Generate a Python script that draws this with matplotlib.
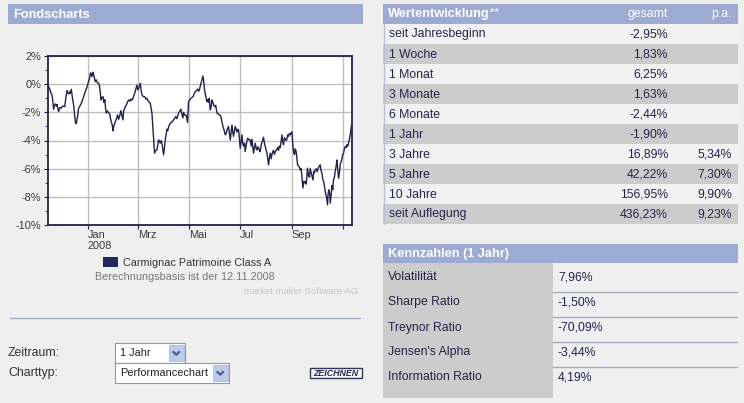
"""
Fondscharts-Seite: Performancechart Carmignac Patrimoine mit Kennzahlen-Tabellen
"""
import numpy as np
import matplotlib
matplotlib.use("Agg")
import matplotlib.pyplot as plt
import matplotlib.dates as mdates
from matplotlib.patches import Rectangle
from matplotlib.ticker import FixedLocator
from datetime import datetime

plt.rcParams["font.family"] = ["Liberation Sans", "DejaVu Sans"]

# Wertentwicklung 1 Jahr: Tage relativ zum 01.01.2008, Performance in %
tage = [-46.6, -45.2, -44.0, -42.6, -41.6, -40.7, -39.6, -38.6, -37.4, -36.6,
        -35.6, -34.7, -33.6, -32.7, -31.5, -30.3, -28.7, -27.3, -26.1, -24.6,
        -23.7, -22.5, -21.5, -20.7, -19.5, -18.3, -16.7, -15.7, -14.7, -13.5,
        -12.7, -12.0, -10.8, -8.7, -6.7, -4.8, -2.8, -1.3, 0.0, 1.2,
        2.4, 3.5, 4.1, 5.3, 6.2, 7.2, 8.3, 9.2, 10.4, 11.6,
        13.2, 14.2, 15.2, 16.0, 17.2, 18.4, 19.6, 20.6, 21.5, 22.4,
        23.6, 24.8, 26.3, 28.0, 29.5, 30.4, 31.3, 33.1, 34.3, 35.9,
        37.1, 38.2, 39.9, 40.9, 42.3, 43.1, 44.5, 46.3, 47.5, 49.0,
        50.5, 51.9, 52.9, 54.3, 55.5, 57.0, 59.1, 60.0, 61.2, 63.0,
        64.2, 65.4, 67.0, 68.4, 69.6, 70.8, 73.0, 74.4, 75.0, 77.0,
        78.0, 78.9, 80.1, 81.6, 83.0, 84.0, 84.9, 86.0, 86.9, 88.1,
        89.3, 90.9, 92.0, 92.9, 95.0, 95.9, 97.1, 98.9, 100.7, 102.9,
        104.3, 105.5, 106.9, 108.8, 110.3, 111.7, 112.7, 114.1, 114.8, 116.3,
        118.0, 119.6, 120.8, 122.2, 123.7, 126.1, 127.6, 128.8, 130.6, 131.8,
        133.0, 134.2, 135.6, 136.8, 138.0, 139.0, 139.6, 140.8, 142.8, 143.8,
        144.7, 145.6, 146.7, 147.9, 148.8, 150.0, 150.9, 152.1, 153.3, 154.8,
        156.3, 158.1, 159.3, 161.9, 163.5, 164.7, 165.9, 167.1, 168.6, 169.7,
        170.7, 171.9, 172.7, 173.7, 174.6, 175.8, 176.6, 178.7, 179.6, 180.6,
        181.4, 182.6, 183.8, 184.7, 185.6, 186.6, 187.8, 188.6, 189.8, 191.4,
        192.6, 193.8, 194.6, 195.8, 196.6, 197.6, 198.5, 199.6, 200.6, 201.8,
        202.6, 203.6, 204.5, 205.6, 206.5, 207.7, 208.9, 210.5, 211.6, 212.5,
        214.6, 215.5, 216.5, 217.6, 218.5, 219.7, 220.5, 221.5, 222.5, 223.5,
        224.5, 225.7, 226.5, 227.5, 228.4, 229.5, 230.5, 232.5, 233.5, 234.4,
        235.5, 236.4, 237.6, 238.5, 239.4, 240.4, 241.5, 242.4, 244.5, 245.7,
        246.6, 247.6, 248.4, 249.6, 251.2, 252.4, 253.4, 254.4, 255.6, 256.8,
        257.6, 258.6, 259.4, 260.4, 261.6, 263.1, 264.3, 265.5, 266.3, 267.5,
        268.7, 269.6, 270.5, 271.5, 272.3, 273.5, 274.7, 276.3, 277.4, 278.3,
        279.2, 280.3, 281.5, 282.5, 284.6, 285.8, 287.0, 287.9, 288.7, 289.7,
        290.3, 291.5, 292.3, 293.3, 294.2, 295.3, 296.2, 297.4, 298.3, 299.2,
        300.2, 301.3, 302.2, 303.4, 304.3, 305.2, 306.2, 307.3, 308.2, 309.4,
        310.2, 311.2, 312.2, 313.2, 314.2, 315.0, 315.7]
perf = [-0.18, -0.35, -0.6, -0.77, -1.2, -1.78, -1.5, -1.4, -1.55, -1.43,
        -1.7, -1.95, -1.75, -1.64, -1.7, -1.6, -1.55, -1.6, -1.0, -0.46,
        -0.6, -0.7, -0.55, -0.65, -0.36, -0.9, -1.48, -2.1, -2.66, -2.82,
        -2.5, -2.3, -1.71, -1.5, -1.24, -0.9, -0.53, -0.3, -0.06, 0.2,
        0.42, 0.8, 0.72, 0.53, 0.85, 0.7, 0.4, 0.18, 0.3, 0.1,
        0.06, -0.1, -0.6, -1.12, -0.95, -0.89, -1.3, -1.1, -1.7, -2.06,
        -1.9, -2.0, -2.1, -2.6, -2.9, -3.32, -3.0, -2.66, -2.5, -2.18,
        -2.5, -2.3, -1.88, -2.2, -2.54, -1.9, -1.7, -1.48, -1.3, -1.12,
        -1.2, -1.05, -1.15, -1.0, -0.8, -0.5, -0.06, -0.4, -0.3, 0.06,
        -0.5, -0.8, -0.89, -0.9, -1.05, -1.0, -1.24, -1.3, -1.36, -2.06,
        -3.0, -3.84, -4.9, -4.7, -4.67, -4.3, -3.96, -4.05, -4.19, -4.0,
        -4.3, -5.02, -4.5, -3.96, -3.2, -3.3, -3.0, -2.77, -2.7, -2.54,
        -2.4, -2.3, -2.45, -2.06, -1.9, -1.78, -2.1, -2.4, -2.0, -2.2,
        -2.2, -2.73, -1.24, -1.1, -1.0, -0.89, -0.7, -0.53, -0.45, -0.35,
        -0.5, -0.3, 0.06, 0.3, 0.58, 0.2, -0.29, -0.7, -1.24, -1.1,
        -1.3, -1.0, -1.83, -1.6, -1.12, -1.3, -1.5, -1.6, -1.5, -2.06,
        -2.1, -2.2, -2.25, -3.01, -3.3, -3.6, -3.5, -3.2, -3.0, -3.5,
        -3.96, -3.3, -2.9, -3.4, -3.7, -3.3, -3.0, -3.4, -3.2, -3.25,
        -3.7, -4.55, -4.0, -3.6, -4.2, -4.4, -4.2, -4.79, -4.3, -3.84,
        -3.9, -4.0, -3.96, -4.4, -3.9, -4.4, -4.9, -4.5, -4.2, -4.6,
        -4.67, -4.45, -4.5, -4.7, -4.8, -4.3, -4.1, -3.77, -4.2, -4.4,
        -4.9, -5.3, -5.73, -5.2, -4.9, -5.3, -5.0, -4.8, -4.7, -5.0,
        -4.8, -4.7, -4.6, -4.5, -4.7, -4.4, -4.5, -3.6, -4.1, -4.3,
        -3.8, -3.9, -4.0, -3.9, -3.6, -3.7, -3.5, -3.6, -3.37, -4.43,
        -4.9, -5.0, -4.6, -4.8, -5.73, -5.8, -5.9, -6.1, -6.0, -6.8,
        -7.38, -6.9, -7.0, -6.9, -7.1, -5.96, -6.5, -6.6, -6.0, -6.3,
        -6.6, -6.8, -6.2, -6.3, -6.1, -6.0, -6.2, -5.9, -5.8, -5.73,
        -6.1, -6.3, -6.8, -6.9, -7.74, -8.0, -8.57, -7.7, -7.5, -7.8,
        -8.45, -7.8, -7.2, -7.5, -6.79, -6.6, -6.2, -5.8, -5.38, -6.0,
        -6.67, -6.3, -5.7, -5.5, -5.3, -5.0, -4.9, -4.6, -4.43, -4.5,
        -4.3, -4.4, -4.2, -3.9, -3.6, -3.2, -2.89]

monat_ticks = ["2008-01-01", "2008-03-01", "2008-05-01", "2008-07-01",
               "2008-09-01", "2008-11-01"]
monat_labels = ["Jan\n2008", "Mrz", "Mai", "Jul", "Sep", ""]
y_ticks = [2, 0, -2, -4, -6, -8, -10]

zeitraum = ["seit Jahresbeginn", "1 Woche", "1 Monat", "3 Monate", "6 Monate",
            "1 Jahr", "3 Jahre", "5 Jahre", "10 Jahre", "seit Auflegung"]
gesamt = ["-2,95%", "1,83%", "6,25%", "1,63%", "-2,44%",
          "-1,90%", "16,89%", "42,22%", "156,95%", "436,23%"]
pro_jahr = ["", "", "", "", "", "", "5,34%", "7,30%", "9,90%", "9,23%"]

kennzahlen = ["Volatilität", "Sharpe Ratio", "Treynor Ratio",
              "Jensen's Alpha", "Information Ratio"]
kennwerte = ["7,96%", "-1,50%", "-70,09%", "-3,44%", "4,19%"]

# Farben
BG = "#EFEFEF"
HEAD = "#9DAAD2"
GRAU = "#CCCCCC"
TXT = "#24244C"
LINIE = "#22224E"

W, H = 744, 403
fig = plt.figure(figsize=(W / 100, H / 100), dpi=100, facecolor=BG)

# Overlay in Pixel-Koordinaten fuer das Seitenlayout
ov = fig.add_axes([0, 0, 1, 1], zorder=0)
ov.set_xlim(0, W)
ov.set_ylim(H, 0)
ov.axis("off")


def box(x0, y0, x1, y1, fc, ec="none", lw=0):
    ov.add_patch(Rectangle((x0, y0), x1 - x0, y1 - y0, fc=fc, ec=ec, lw=lw))


# --- linke Seite: Fondscharts ---
box(8, 4, 363, 24, HEAD)
ov.text(13, 14.5, "Fondscharts", color="white", fontsize=9.2,
        fontweight="bold", va="center")

ax = fig.add_axes([48.3 / W, 1 - 225 / H, (352 - 48.3) / W, (225 - 56) / H],
                  zorder=2)
ax.set_facecolor("white")
x = mdates.date2num(datetime(2008, 1, 1)) + np.array(tage)
ax.plot(x, perf, color=LINIE, lw=1.0)
ax.set_xlim(mdates.date2num(datetime(2007, 11, 15)),
            mdates.date2num(datetime(2008, 11, 12, 8)))
ax.set_ylim(-10, 2)
ax.set_xticks(mdates.datestr2num(monat_ticks))
ax.set_xticklabels(monat_labels, ha="left", linespacing=1.2)
ax.set_yticks(y_ticks)
ax.set_yticklabels([f"{v}%" for v in y_ticks])
ax.yaxis.set_minor_locator(FixedLocator([1, -1, -3, -5, -7, -9]))
ax.tick_params(which="both", direction="out", color=LINIE, labelsize=7.9,
               labelcolor="#3A3A3A")
ax.tick_params(which="major", length=3, pad=2)
ax.tick_params(axis="x", which="major", pad=0.5)
ax.tick_params(which="minor", length=2)
ax.grid(True, which="major", color="#BEBEBE", lw=1)
ax.set_axisbelow(True)
for s in ax.spines.values():
    s.set_color(LINIE)
    s.set_linewidth(1.3)

# Legende und Hinweise
box(103, 257, 118, 267, "#26265E")
ov.text(123, 262.5, "Carmignac Patrimoine Class A", fontsize=7.8,
        color="#333333", va="center")
ov.text(185, 277, "Berechnungsbasis ist der 12.11.2008", fontsize=7.8,
        color="#777777", va="center", ha="center")
ov.text(358, 292, "market maker Software AG", fontsize=6.8,
        color="#C4C4C4", va="center", ha="right")

ov.plot([10, 360], [318, 318], color="#A3ACC6", lw=1)

# Formular
ov.text(8, 353.5, "Zeitraum:", fontsize=8.8, color="#333333", va="center")
ov.text(8, 373, "Charttyp:", fontsize=8.8, color="#333333", va="center")


def dropdown(x0, y0, x1, y1, label):
    box(x0, y0, x1, y1, "white", ec="#7F9DB9", lw=0.8)
    ov.text(x0 + 5, (y0 + y1) / 2 + 0.5, label, fontsize=7.9,
            color="#222222", va="center")
    bx = x1 - 16
    box(bx, y0 + 2, x1 - 1.5, y1 - 1.5, "#BCCBEA", ec="#A9BCE0", lw=0.6)
    cx, cy = (bx + x1 - 1.5) / 2, (y0 + y1) / 2 + 0.5
    ov.plot([cx - 3.5, cx, cx + 3.5], [cy - 2, cy + 1.5, cy - 2],
            color="#4D5E8E", lw=1.6, solid_capstyle="butt")


dropdown(115, 343, 185, 362.5, "1 Jahr")
dropdown(115, 363, 229, 382.5, "Performancechart")

box(310, 367.5, 361.5, 378, "#F6F6F6", ec="#333355", lw=1)
ov.text(335.8, 373, "ZEICHNEN", fontsize=6.4, fontweight="bold",
        fontstyle="italic", color="#2A2A55", va="center", ha="center")

# --- rechte Seite: Wertentwicklung ---
box(383, 4, 737.5, 24, HEAD)
t1 = ov.text(388, 14.5, "Wertentwicklung", color="white", fontsize=9.2,
             fontweight="bold", va="center")
ov.annotate("**", xy=(1, 1.05), xycoords=t1, va="top", ha="left",
            color="#E6E9F4", fontsize=8, fontweight="bold")
ov.text(668, 14.5, "gesamt", color="white", fontsize=8.8, va="center",
        ha="right")
ov.text(732, 14.5, "p.a.", color="white", fontsize=8.8, va="center",
        ha="right")

for i, (name, ges, pa) in enumerate(zip(zeitraum, gesamt, pro_jahr)):
    y0 = 24 + 20 * i
    box(383, y0, 737.5, y0 + 20, GRAU if i % 2 else "#F1F1F1")
    yc = y0 + 10.5
    ov.text(389, yc, name, fontsize=8.8, color=TXT, va="center")
    ov.text(668, yc, ges, fontsize=8.8, color=TXT, va="center", ha="right")
    if pa:
        ov.text(732, yc, pa, fontsize=8.8, color=TXT, va="center", ha="right")
ov.plot([383.5, 383.5], [24, 224], color="#B9C0D6", lw=1)

# --- Kennzahlen ---
box(383, 244, 737.5, 263, HEAD)
ov.text(388, 253.5, "Kennzahlen (1 Jahr)", color="white", fontsize=9.2,
        fontweight="bold", va="center")
box(383, 263, 553, 398, GRAU)
for i, (name, wert) in enumerate(zip(kennzahlen, kennwerte)):
    yc = 277.5 + 25 * i
    ov.text(388, yc, name, fontsize=8.8, color=TXT, va="center")
    ov.text(558, yc, wert, fontsize=8.8, color=TXT, va="center")
    if i < len(kennzahlen) - 1:
        ov.plot([553, 737], [291.7 + 25 * i] * 2, color="#A3A9BF", lw=1)

fig.savefig("out.png", dpi=100, facecolor=BG)
